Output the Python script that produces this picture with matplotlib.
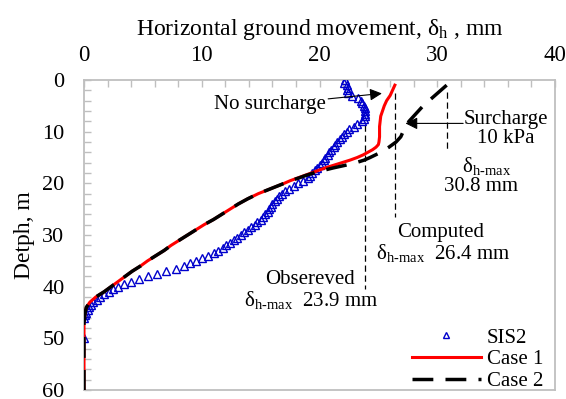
import matplotlib
matplotlib.use("Agg")
import matplotlib.pyplot as plt

plt.rcParams['font.family'] = ['Liberation Serif', 'DejaVu Serif']
plt.rcParams['mathtext.fontset'] = 'custom'
plt.rcParams['mathtext.rm'] = 'Liberation Serif'
plt.rcParams['mathtext.it'] = 'Liberation Serif:italic'
plt.rcParams['font.size'] = 15

# ---- data ----
sis2_depth = [0, 0.5, 1, 1.5, 2, 2.5, 3, 3.5, 4, 4.5, 5, 5.5, 6, 6.5, 7, 7.5, 8, 8.5, 9, 9.5,
              10, 10.5, 11, 11.5, 12, 12.5, 13, 13.5, 14, 14.5, 15, 15.5, 16, 16.5, 17, 17.5,
              18, 18.5, 19, 19.5, 20, 20.5, 21, 21.5, 22, 22.5, 23, 23.5, 24, 24.5, 25, 25.5,
              26, 26.5, 27, 27.5, 28, 28.5, 29, 29.5, 30, 30.5, 31, 31.5, 32, 32.5, 33, 33.5,
              34, 34.5, 35, 35.5, 36, 36.5, 37, 37.5, 38, 38.5, 39, 39.5, 40, 40.5, 41, 41.5,
              42, 42.5, 43, 43.5, 44, 44.5, 45, 45.5, 46, 50]
sis2_disp = [22.2, 22.1, 22.3, 22.4, 22.3, 22.4, 22.8, 23.3, 23.5, 23.6, 23.8, 23.9, 23.9, 23.9,
             23.9, 23.8, 23.6, 23.2, 22.9, 22.5, 22.3, 22.1, 21.9, 21.7, 21.5, 21.3, 21.2, 21.0,
             20.8, 20.7, 20.5, 20.4, 20.2, 20.0, 19.8, 19.6, 19.4, 19.2, 19.0, 18.6, 18.2, 17.8,
             17.4, 17.1, 16.8, 16.6, 16.4, 16.2, 16.0, 15.9, 15.7, 15.6, 15.4, 15.2, 15.0, 14.7,
             14.5, 14.2, 13.9, 13.6, 13.3, 13.0, 12.7, 12.4, 12.1, 11.8, 11.4, 11.0, 10.5, 10.0,
             9.5, 9.0, 8.5, 7.8, 7.0, 6.2, 5.4, 4.7, 4.0, 3.4, 2.9, 2.5, 2.1, 1.7, 1.4, 1.1, 0.8,
             0.6, 0.4, 0.3, 0.2, 0.1, 0.0, 0.0]

case1_depth = [1, 2, 3, 4, 5, 6, 7, 8, 9, 10, 11, 12, 12.5, 13, 13.5, 14, 14.5, 15, 15.5, 16,
               16.5, 17, 17.5, 18, 18.5, 19, 19.5, 20, 21, 22, 23, 24, 25, 26, 27, 28, 29, 30,
               31, 32, 33, 34, 35, 36, 37, 38, 39, 40, 41, 42, 43, 44, 45, 46, 47, 60]
case1_disp = [26.4, 26.2, 26.0, 25.7, 25.5, 25.35, 25.2, 25.15, 25.1, 25.1, 25.1, 25.05, 25.0,
              24.8, 24.5, 24.1, 23.7, 23.2, 22.6, 21.9, 21.2, 20.5, 19.9, 19.3, 18.7, 18.1,
              17.5, 17.0, 15.9, 14.8, 13.9, 13.1, 12.4, 11.7, 11.0, 10.2, 9.5, 8.8, 8.1, 7.4,
              6.8, 6.1, 5.4, 4.8, 4.1, 3.5, 2.9, 2.3, 1.7, 1.0, 0.5, 0.2, 0.1, 0.05, 0.0, 0.0]

case2_depth = [1, 2, 3, 4, 5, 6, 7, 8, 9, 10, 11, 12, 13, 14, 15, 15.5, 16, 16.5, 17, 17.5, 18,
               18.5, 19, 19.5, 20, 21, 22, 23, 24, 25, 26, 27, 28, 29, 30, 31, 32, 33, 34, 35,
               36, 37, 38, 39, 40, 41, 42, 43, 44, 45, 46, 47, 60]
case2_disp = [30.8, 30.3, 29.8, 29.3, 28.8, 28.4, 28.0, 27.6, 27.3, 27.1, 26.9, 26.5, 25.9, 25.2,
              24.3, 23.8, 23.1, 22.2, 21.2, 20.3, 19.5, 18.8, 18.2, 17.5, 17.0, 15.9, 14.8,
              13.9, 13.1, 12.4, 11.7, 11.0, 10.2, 9.5, 8.8, 8.1, 7.4, 6.8, 6.1, 5.4, 4.8, 4.1,
              3.5, 2.9, 2.3, 1.7, 1.0, 0.5, 0.2, 0.1, 0.05, 0.0, 0.0]

x_ticks = [0, 10, 20, 30, 40]
y_ticks = [0, 10, 20, 30, 40, 50, 60]

obs_max = 23.9
comp_max = 26.4
sur_max = 30.8

# ---- figure ----
fig = plt.figure(figsize=(5.66, 3.99), dpi=100)
ax = fig.add_axes([84 / 566, 9 / 399, 471 / 566, 310 / 399])

gray = '#bfbfbf'
ax.plot(sis2_disp, sis2_depth, linestyle='none', marker='^', markersize=6,
        markerfacecolor='none', markeredgecolor='#0000cc', markeredgewidth=1.0,
        label='SIS2', zorder=3)
ax.plot(case1_disp, case1_depth, color='#ff0000', lw=2.2, label='Case 1', zorder=4)
ax.plot(case2_disp, case2_depth, color='black', lw=2.5, dashes=(6, 3.5),
        label='Case 2', zorder=5)

# vertical dashed reference lines
ax.plot([obs_max, obs_max], [8.7, 40.5], color='black', lw=0.9, dashes=(5, 3))
ax.plot([comp_max, comp_max], [2.6, 26.5], color='black', lw=0.9, dashes=(5, 3))
ax.plot([sur_max, sur_max], [2.3, 14.0], color='black', lw=0.9, dashes=(5, 3))

ax.set_xlim(0, 40)
ax.set_ylim(60, 0)
ax.set_xticks(x_ticks)
ax.set_yticks(y_ticks)
ax.set_xticks(range(0, 41, 2), minor=True)
ax.set_yticks(range(0, 61, 2), minor=True)
ax.xaxis.tick_top()
ax.xaxis.set_label_position('top')
ax.tick_params(axis='both', which='both', direction='in', color=gray, width=1,
               length=5, top=True, bottom=False, left=True, right=False)
ax.tick_params(axis='x', which='major', labelsize=16.5, pad=10)
ax.tick_params(axis='y', which='major', labelsize=16, pad=14)
for s in ax.spines.values():
    s.set_color(gray)
    s.set_linewidth(1.3)
for lbl in ax.get_yticklabels():
    lbl.set_verticalalignment('center_baseline')

ax.set_xlabel(r'Horizontal ground movement, δ$_{\rm h}$ , mm', fontsize=17, labelpad=7)
ax.set_ylabel('Detph, m', fontsize=17, labelpad=5)

# annotations
ax.annotate('No surcharge', xy=(25.3, 2.6), xytext=(20.5, 4.8),
            ha='right', va='center',
            arrowprops=dict(arrowstyle='-|>', color='black', lw=0.8,
                            mutation_scale=18, shrinkA=0, shrinkB=0))
ax.annotate('', xy=(27.3, 8.4), xytext=(32.2, 8.4),
            arrowprops=dict(arrowstyle='-|>', color='black', lw=0.8,
                            mutation_scale=18, shrinkA=0, shrinkB=0))
ax.text(35.8, 9.4, 'Surcharge\n10 kPa', ha='center', va='center',
        multialignment='center', linespacing=1.0)
ax.text(32.1, 16.6, r'δ$_{\rm h\text{-}max}$', ha='left', va='center')
ax.text(30.6, 20.6, '30.8 mm', ha='left', va='center')
ax.text(26.55, 29.6, 'Computed', ha='left', va='center')
ax.text(24.8, 33.4, r'δ$_{\rm h\text{-}max}$  26.4 mm', ha='left', va='center')
ax.text(15.4, 38.7, 'Obsereved', ha='left', va='center')
ax.text(13.6, 42.6, r'δ$_{\rm h\text{-}max}$  23.9 mm', ha='left', va='center')

leg = ax.legend(loc='lower right', frameon=False, handlelength=3.3, handletextpad=0.3,
                labelspacing=0.1, borderaxespad=0.0, bbox_to_anchor=(0.993, -0.03),
                markerscale=0.8)

fig.savefig('out.png', dpi=100)
